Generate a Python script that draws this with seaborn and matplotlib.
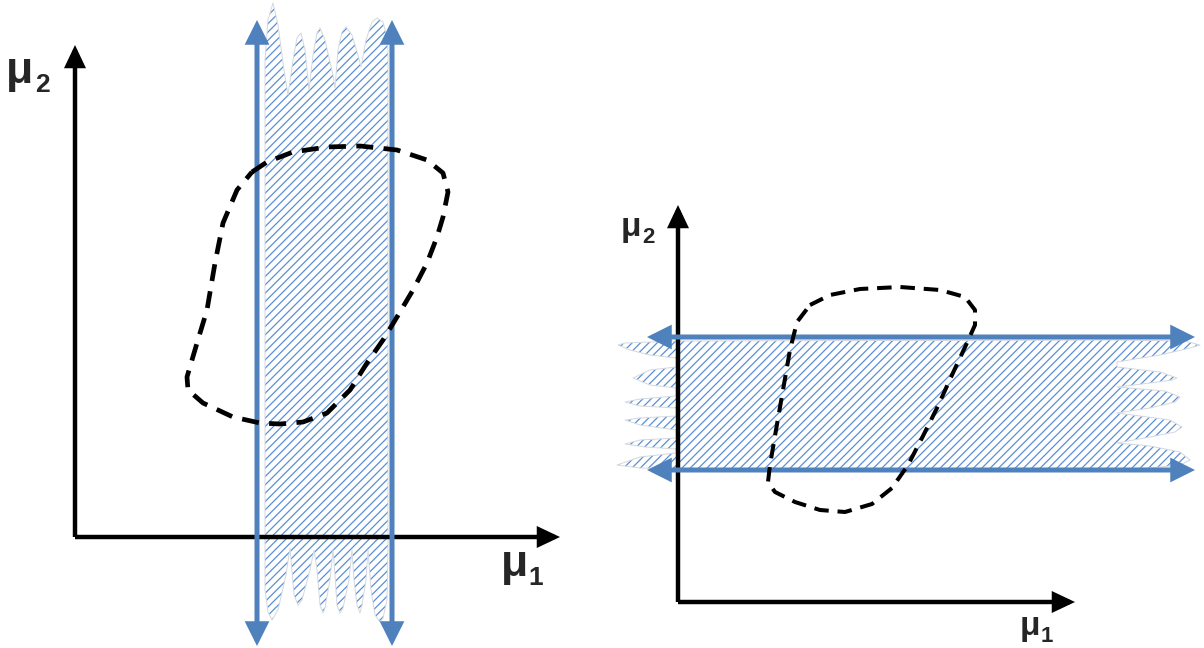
import pandas as pd
import seaborn as sns
import matplotlib.pyplot as plt
from matplotlib.patches import FancyArrowPatch

# --- diagram geometry (pixel space of a 1204x648 canvas, y grows downward) ---

# left panel: vertical band (mu1 bounded), wavy ends at top and bottom
left_band_x = [265, 265, 268, 273, 278, 284, 288, 293, 297, 301, 305, 309, 313, 317, 320,
               325, 333, 335, 338, 342, 346, 352, 358, 361, 366, 372, 377, 383, 387, 388,
               388, 387, 383, 380, 375, 371, 368, 366, 362, 360, 357, 354, 352, 349, 343,
               340, 337, 335, 333, 330, 325, 323, 320, 317, 314, 310, 302, 298, 294, 291,
               290, 286, 278, 272, 268, 265]
left_band_y = [540, 60, 20, 3, 25, 70, 95, 60, 38, 33, 50, 90, 55, 33, 28,
               40, 75, 88, 50, 32, 27, 35, 55, 67, 40, 22, 18, 22, 37, 50,
               548, 600, 618, 622, 615, 590, 550, 580, 605, 613, 605, 580, 550, 580, 608,
               613, 605, 575, 550, 580, 608, 613, 605, 570, 550, 570, 600, 605, 595, 560,
               548, 575, 610, 620, 612, 590]

# right panel: horizontal band (mu2 bounded), wavy ends left and right
right_band_x = [678, 650, 625, 618, 630, 650, 676, 676, 650, 633, 650, 676, 676, 640, 625,
                640, 676, 676, 640, 625, 640, 676, 676, 640, 625, 645, 676, 676, 640, 617,
                640, 678, 1115, 1150, 1180, 1190, 1180, 1150, 1117, 1150, 1175, 1182, 1170,
                1140, 1117, 1150, 1175, 1180, 1165, 1117, 1150, 1172, 1177, 1160, 1117, 1117,
                1160, 1190, 1200, 1185, 1117]
right_band_y = [341, 342, 343, 345, 350, 355, 358, 367, 370, 378, 385, 388, 396, 399, 402,
                406, 408, 416, 418, 420, 425, 430, 438, 440, 444, 447, 449, 453, 457, 465,
                468, 469, 469, 468, 465, 460, 452, 446, 443, 437, 432, 427, 420,
                416, 413, 408, 402, 397, 391, 387, 383, 380, 378, 372, 367, 362,
                355, 348, 345, 341, 340]

# dashed confidence regions
left_region_x = [252, 267, 293, 327, 360, 397, 427, 443, 448, 443, 437, 427, 413, 397, 383,
                 367, 350, 327, 303, 280, 260, 233, 203, 188, 187, 197, 207, 215, 223, 237, 252]
left_region_y = [172, 162, 152, 147, 146, 150, 160, 173, 192, 217, 237, 263, 290, 317, 340,
                 363, 390, 413, 422, 424, 423, 417, 403, 390, 377, 343, 310, 263, 223, 190, 172]

right_region_x = [810, 830, 860, 900, 940, 965, 975, 975, 966, 952, 937, 922, 908, 892, 872,
                  845, 820, 795, 775, 768, 770, 776, 783, 790, 797, 810]
right_region_y = [305, 295, 289, 287, 290, 297, 310, 325, 345, 375, 408, 438, 465, 488, 504,
                  512, 510, 502, 492, 482, 465, 430, 390, 350, 322, 305]

# coordinate axes: (x0, y0, x1, y1) start -> arrow tip
left_axes = [(75, 537, 75, 45), (75, 537, 560, 537)]
right_axes = [(678, 602, 678, 205), (678, 602, 1075, 602)]

# band boundary lines (double headed)
left_bounds = [(257, 20, 257, 646), (392, 20, 392, 646)]
right_bounds = [(647, 337, 1195, 337), (647, 470, 1195, 470)]

# axis labels: (base, subscript, x, baseline y, sub x, sub baseline y, size, sub size)
labels = [("μ", "2", 6, 83, 35, 92, 32, 19),
          ("μ", "1", 501, 576, 528, 585, 32, 19),
          ("μ", "2", 621, 236, 642, 243, 24, 16),
          ("μ", "1", 1020, 635, 1041, 642, 24, 16)]

BLUE = "#4f81bd"
HATCH_BLUE = "#5b8fd6"

sns.set_style("white")
plt.rcParams["hatch.linewidth"] = 0.9
plt.rcParams["font.family"] = ["Liberation Sans", "DejaVu Sans"]

fig = plt.figure(figsize=(12.04, 6.48), dpi=100)
ax = fig.add_axes([0, 0, 1, 1])

# hatched bands with a faint outline
for bx, by in [(left_band_x, left_band_y), (right_band_x, right_band_y)]:
    ax.fill(bx, by, facecolor="white", edgecolor=HATCH_BLUE,
            hatch="////", linewidth=0, zorder=1)
    ax.plot(bx + bx[:1], by + by[:1], color="#d4d8de", lw=0.7, zorder=1.5)


def arrow(seg, color, lw, style, z):
    x0, y0, x1, y1 = seg
    ax.add_patch(FancyArrowPatch((x0, y0), (x1, y1), arrowstyle=style,
                                 mutation_scale=12, color=color, lw=lw,
                                 shrinkA=0, shrinkB=0, joinstyle="miter",
                                 capstyle="butt", zorder=z))


for seg in left_axes + right_axes:
    arrow(seg, "black", 3.2, "-|>,head_length=0.95,head_width=0.45", 2)

for seg in left_bounds + right_bounds:
    arrow(seg, BLUE, 3.6, "<|-|>,head_length=1.0,head_width=0.5", 3)

# dashed regions
regions = pd.concat([
    pd.DataFrame({"x": left_region_x, "y": left_region_y, "panel": "left"}),
    pd.DataFrame({"x": right_region_x, "y": right_region_y, "panel": "right"}),
])
for panel, d in regions.groupby("panel"):
    sns.lineplot(data=d, x="x", y="y", sort=False, estimator=None, color="black", ax=ax)
    line = ax.get_lines()[-1]
    line.set_linewidth(3.4 if panel == "left" else 2.9)
    line.set_linestyle((0, (3.6, 2.2)))
    line.set_zorder(4)

ax.set_xlim(0, 1204)
ax.set_ylim(648, 0)
ax.axis("off")

for base, sub, x, y, sx, sy, size, ssize in labels:
    ax.text(x, y, base, fontsize=size, fontweight="bold", ha="left", va="baseline")
    ax.text(sx, sy, sub, fontsize=ssize, fontweight="bold", ha="left", va="baseline")

fig.savefig("out.png", dpi=100)
plt.close(fig)
